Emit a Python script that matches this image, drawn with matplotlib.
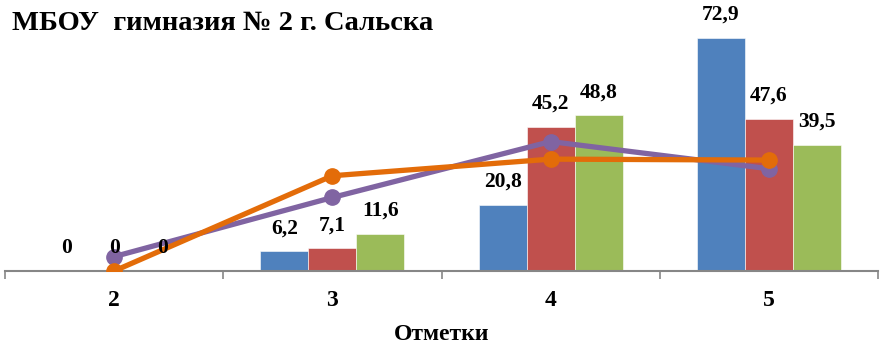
import numpy as np
import matplotlib
matplotlib.use("Agg")
import matplotlib.pyplot as plt

plt.rcParams['font.family'] = ['Liberation Serif', 'DejaVu Serif']
plt.rcParams['font.weight'] = 'bold'

categories = ["2", "3", "4", "5"]
bars_blue = [0, 6.2, 20.8, 72.9]
bars_red = [0, 7.1, 45.2, 47.6]
bars_green = [0, 11.6, 48.8, 39.5]
line_purple = [4.5, 23.0, 40.5, 32.0]
line_orange = [0.0, 29.8, 35.0, 34.7]

bar_colors = ["#4F81BD", "#C0504D", "#9BBB59"]
x = np.arange(len(categories))
w = 0.22

fig = plt.figure(figsize=(8.85, 3.47), dpi=100)
ax = fig.add_axes([5 / 885, 76 / 347, 873 / 885, 255.7 / 347])

for k, (vals, col) in enumerate(zip([bars_blue, bars_red, bars_green], bar_colors)):
    xs = x + (k - 1) * w
    ax.bar(xs, vals, width=w, color=col, edgecolor="white", linewidth=0.4, zorder=2)
    for xi, v in zip(xs, vals):
        ax.annotate(("%.1f" % v).replace(".", ",") if v else "0", (xi, v),
                    xytext=(0, 16.5), textcoords="offset points",
                    ha="center", va="center", fontsize=15.5, fontweight="bold", zorder=6)

ax.plot(x, line_purple, color="#8064A2", lw=3.8, marker="o", ms=11, zorder=4)
ax.plot(x, line_orange, color="#E36C09", lw=3.8, marker="o", ms=11, zorder=5)

ax.set_xlim(-0.5, 3.5)
ax.set_ylim(0, 80)
ax.set_xticks(x)
ax.set_xticklabels(categories, fontsize=17, fontweight="bold")
ax.set_xticks(np.arange(-0.5, 4, 1), minor=True)
ax.tick_params(axis="x", which="major", length=0, pad=14)
ax.tick_params(axis="x", which="minor", length=6, width=1.2, color="#868686", direction="out")
ax.set_yticks([])
for s in ["left", "right", "top"]:
    ax.spines[s].set_visible(False)
ax.spines["bottom"].set_color("#868686")
ax.spines["bottom"].set_linewidth(1.5)

ax.set_xlabel("Отметки", fontsize=17, fontweight="bold", labelpad=9)
fig.text(12 / 885, 1 - 23 / 347, "МБОУ  гимназия № 2 г. Сальска", fontsize=20.5,
         fontweight="bold", ha="left", va="center")

fig.savefig("out.png", dpi=100)
